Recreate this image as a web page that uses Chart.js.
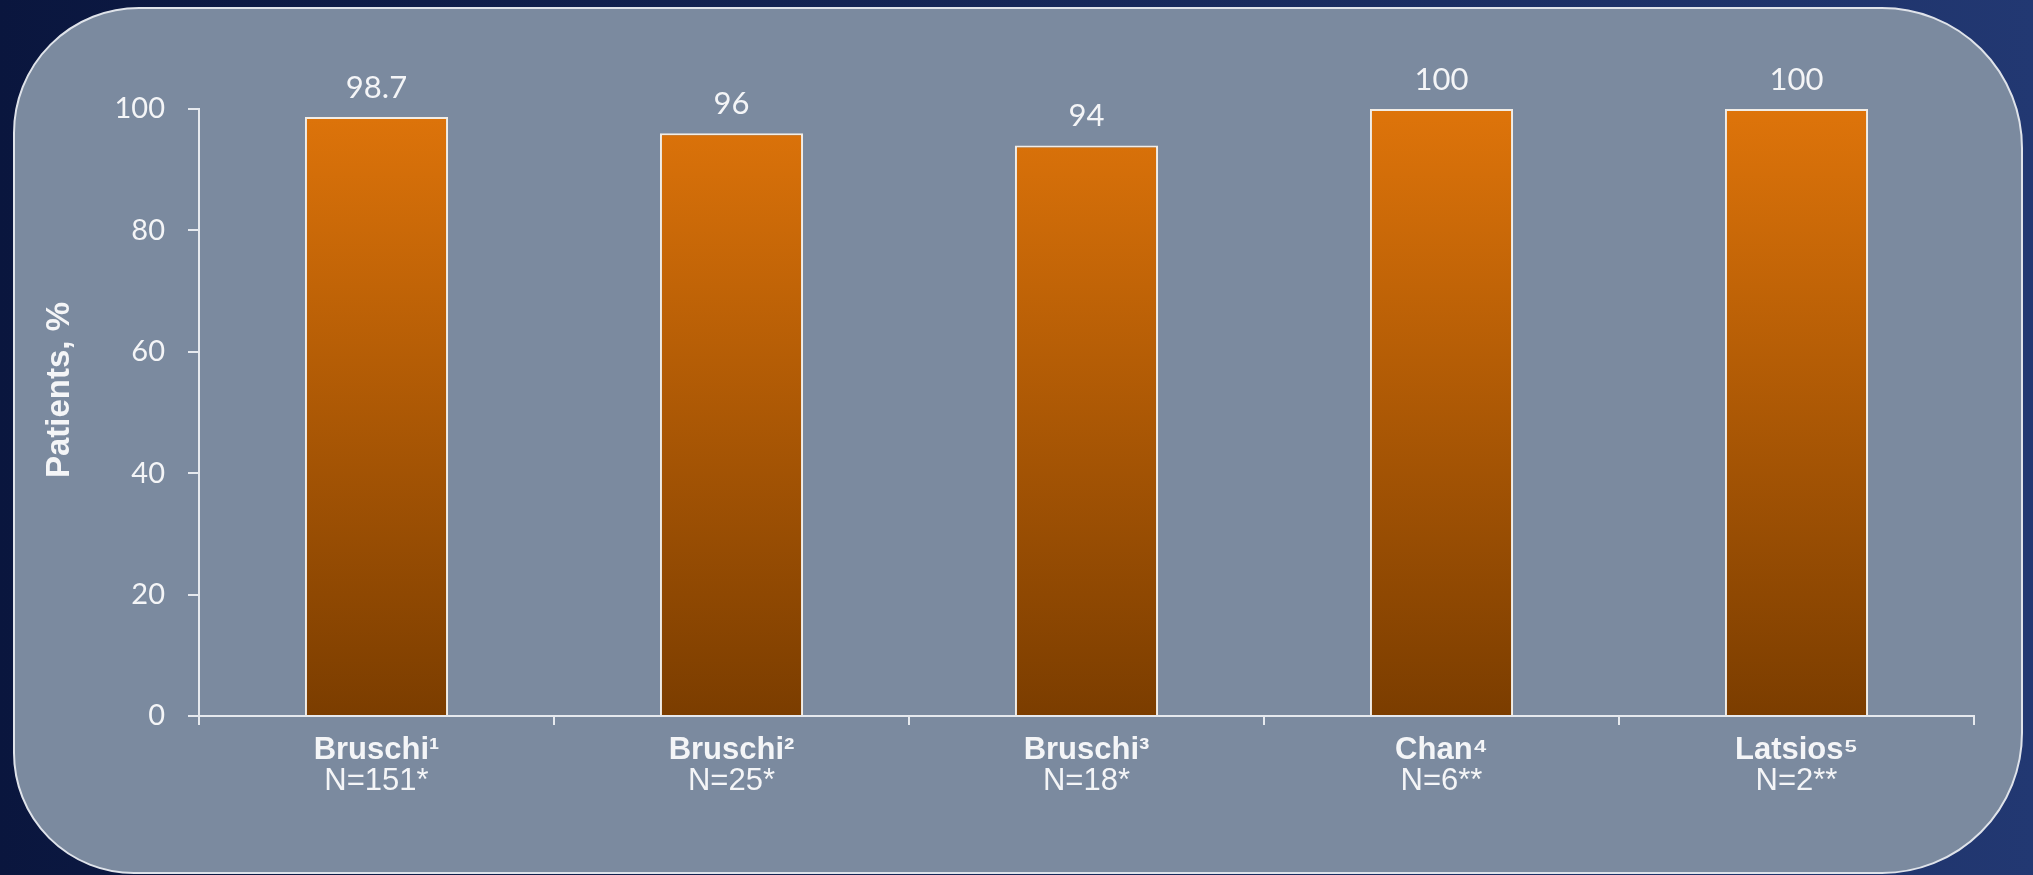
<!DOCTYPE html>
<html>
<head>
<meta charset="utf-8">
<script src="https://cdn.jsdelivr.net/npm/chart.js@4.4.1/dist/chart.umd.min.js"></script>
<style>
  html, body { margin: 0; padding: 0; background: #0b1840; overflow: hidden; }
  #wrap { width: 2033px; height: 875px; }
</style>
</head>
<body>
<div id="wrap"><canvas id="chart"></canvas></div>
<script>
const studies = ["Bruschi\u00B9", "Bruschi\u00B2", "Bruschi\u00B3", "Chan\u2074", "Latsios\u2075"];
const sampleSizes = ["N=151*", "N=25*", "N=18*", "N=6**", "N=2**"];
const patientsPct = [98.7, 96, 94, 100, 100];
const yTicks = [0, 20, 40, 60, 80, 100];
const yTitle = "Patients, %";

const axisColor = "#e6e9ee";
const textColor = "#f4f5f7";

// slide background + rounded grey panel
const panelPlugin = {
    id: "panel",
    beforeDraw(chart) {
        const { ctx, width, height } = chart;
        ctx.save();
        const bg = ctx.createLinearGradient(0, 0, width, 0);
        bg.addColorStop(0, "#0a163e");
        bg.addColorStop(1, "#223872");
        ctx.fillStyle = bg;
        ctx.fillRect(0, 0, width, height);

        const x = 14, y = 8, w = 2008, h = 865;
        ctx.beginPath();
        ctx.roundRect(x, y, w, h, [125, 140, 140, 120]);
        ctx.fillStyle = "#7b8a9f";
        ctx.fill();
        ctx.lineWidth = 2;
        ctx.strokeStyle = "#dfe3ea";
        ctx.stroke();
        ctx.restore();
    }
};

// value labels above each bar + rotated y title (sits a bit above the axis middle)
const valueLabels = {
    id: "valueLabels",
    afterDatasetsDraw(chart) {
        const { ctx } = chart;
        const meta = chart.getDatasetMeta(0);
        ctx.save();
        ctx.font = "31px Lato, 'Open Sans', sans-serif";
        ctx.fillStyle = textColor;
        ctx.textAlign = "center";
        ctx.textBaseline = "alphabetic";
        meta.data.forEach((bar, i) => {
            ctx.fillText(String(patientsPct[i]), bar.x, bar.y - 19);
        });

        ctx.translate(60, 390);
        ctx.rotate(-Math.PI / 2);
        ctx.font = "bold 33px 'Liberation Sans', Arial, sans-serif";
        ctx.textBaseline = "middle";
        ctx.fillText(yTitle, 0, 0);
        ctx.restore();
    }
};

const ctx = document.getElementById("chart").getContext("2d");

new Chart(ctx, {
    type: "bar",
    data: {
        labels: studies,
        datasets: [{
            data: patientsPct,
            backgroundColor: (c) => {
                const area = c.chart.chartArea;
                if (!area) return "#c2620a";
                const g = c.chart.ctx.createLinearGradient(0, area.top, 0, area.bottom);
                g.addColorStop(0, "#de740a");
                g.addColorStop(1, "#7b3d00");
                return g;
            },
            borderColor: "#f2ede6",
            borderWidth: 2,
            barPercentage: 0.403,
            categoryPercentage: 1
        }]
    },
    options: {
        responsive: true,
        maintainAspectRatio: false,
        animation: false,
        layout: {
            padding: { top: 109, right: 59, bottom: 51, left: 0 }
        },
        plugins: {
            legend: { display: false },
            tooltip: { enabled: false }
        },
        scales: {
            x: {
                afterFit(scale) { scale.height = 48; },
                grid: {
                    display: true,
                    drawOnChartArea: false,
                    drawTicks: true,
                    tickLength: 9,
                    color: axisColor,
                    lineWidth: 2
                },
                border: { display: true, color: axisColor, width: 2 },
                ticks: {
                    color: textColor,
                    padding: 10,
                    maxRotation: 0,
                    font: { family: "'Liberation Sans', Arial, sans-serif", size: 31, weight: "bold", lineHeight: 1.0 }
                }
            },
            x2: {
                type: "category",
                labels: sampleSizes,
                position: "bottom",
                afterFit(scale) { scale.height = 60; },
                grid: { display: false, drawTicks: false },
                border: { display: false },
                ticks: {
                    color: textColor,
                    padding: -1,
                    maxRotation: 0,
                    font: { family: "'Liberation Sans', Arial, sans-serif", size: 31, lineHeight: 1.2 }
                }
            },
            y: {
                min: 0,
                max: 100,
                afterFit(scale) { scale.width = 199; },
                afterBuildTicks(scale) { scale.ticks = yTicks.map(v => ({ value: v })); },
                grid: {
                    display: true,
                    drawOnChartArea: false,
                    drawTicks: true,
                    tickLength: 11,
                    color: axisColor,
                    lineWidth: 2
                },
                border: { display: true, color: axisColor, width: 2 },
                ticks: {
                    color: textColor,
                    padding: 23,
                    font: { family: "Lato, 'Open Sans', sans-serif", size: 29 }
                }
            }
        }
    },
    plugins: [panelPlugin, valueLabels]
});
</script>
</body>
</html>
